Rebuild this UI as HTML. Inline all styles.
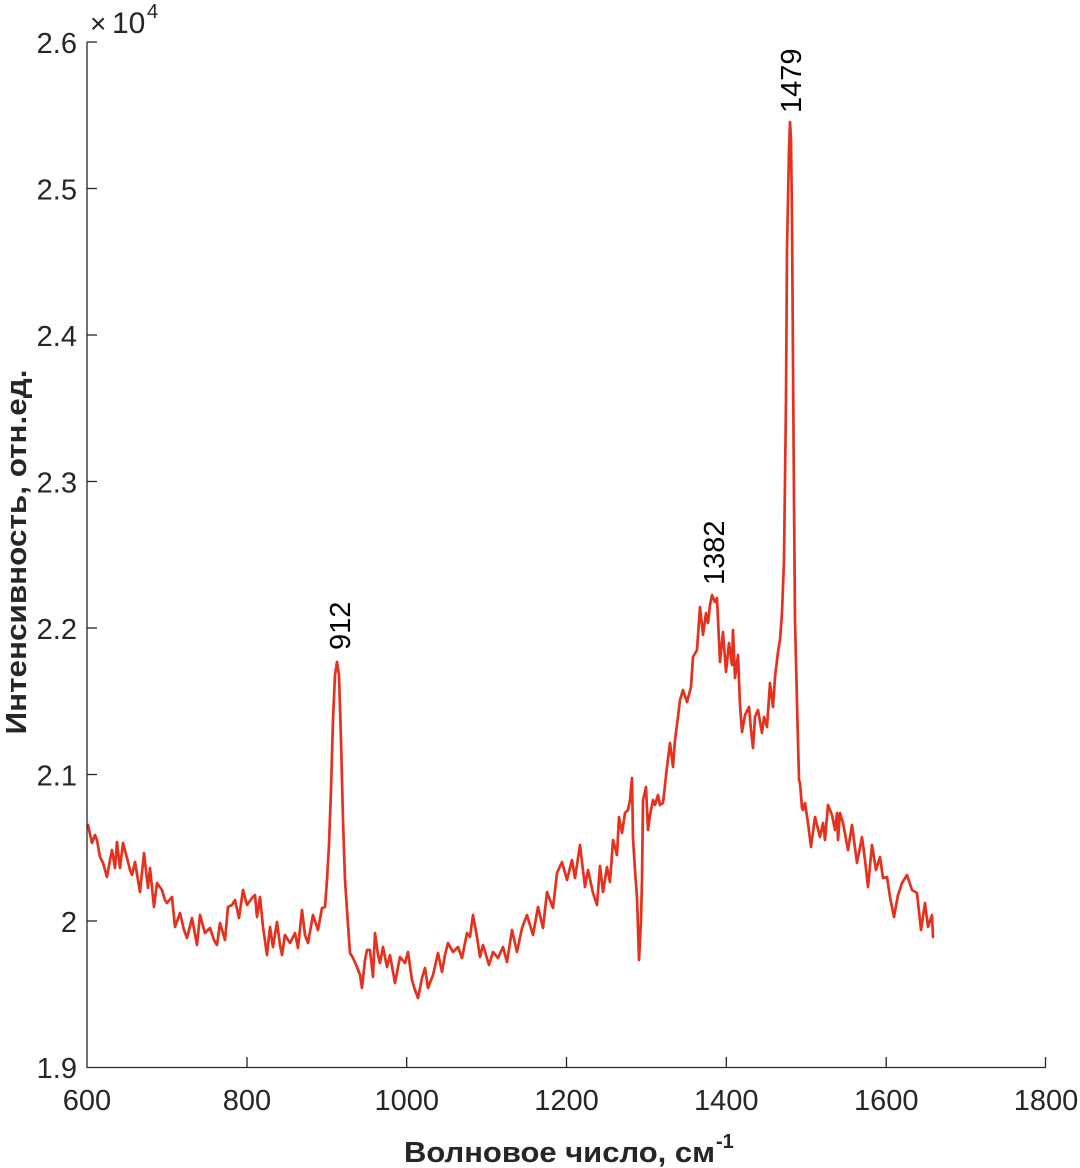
<!DOCTYPE html>
<html>
<head>
<meta charset="utf-8">
<style>
html,body{margin:0;padding:0;background:#fff;}
svg{display:block;}
text{font-family:"Liberation Sans","DejaVu Sans",sans-serif;}
</style>
</head>
<body>
<svg width="1080" height="1168" viewBox="0 0 1080 1168" xmlns="http://www.w3.org/2000/svg">
<rect width="1080" height="1168" fill="#fff"/>

<!-- data -->
<polyline fill="none" stroke="#e4321f" stroke-width="2.7" stroke-linejoin="round" stroke-linecap="round" points="
88,825 92,843 95,835 97,840 100,857 103,863 107,877 110,860 112,850 115,868 117,842 120,868 123,843 127,858 130,870 132,875 135,862 138,880 140,892 144,853 148,888 150,868 154,907 157,883 162,890 165,900 167,903 172,897 175,927 180,913 184,930 187,938 192,918 197,945 200,915 205,933 210,928 214,940 217,945 220,923 225,940 228,907 232,905 235,900 239,918 243,890 247,905 252,898 255,895 257,917 260,897 263,927 267,955 270,927 273,947 277,922 280,945 282,955 285,935 290,943 295,933 298,948 302,910 305,935 308,943 313,915 318,930 322,908 325,907 327,880 329,845 331,790 333,720 335,675 337,662 339,675 341,740 343,820 345,880 347,910 350,953 353,958 357,967 360,975 362,988 365,960 367,950 370,950 373,977 375,933 378,955 380,963 383,947 387,967 390,955 395,983 400,957 405,963 408,952 412,980 415,990 418,998 422,978 425,968 428,988 433,975 438,953 442,972 445,955 448,943 453,952 458,947 462,958 467,933 470,937 473,915 477,937 480,957 483,945 486,955 489,965 493,952 498,958 503,947 507,962 512,930 517,952 522,928 527,915 530,925 533,935 538,907 543,928 547,892 550,900 553,908 557,873 562,862 567,880 572,860 575,878 580,845 585,887 588,870 593,893 597,905 600,866 603,892 607,867 610,882 613,840 617,855 619,817 622,833 625,813 628,810 630,800 632,778 633,838 635,870 637,897 639,960 641,920 642,880 643,800 646,787 648,830 650,815 653,800 655,805 658,795 660,805 663,803 665,785 667,767 670,743 673,767 675,740 678,717 680,700 683,690 687,702 691,687 693,657 697,650 700,607 703,635 706,613 708,623 710,605 712,595 715,602 717,598 720,662 723,632 726,672 729,643 732,665 733,630 735,678 738,655 740,705 742,732 745,715 749,707 751,730 753,748 755,717 758,710 762,733 764,717 767,727 770,683 773,707 775,677 778,652 780,640 782,613 784,560 786,400 787,250 789,150 790,122 791,140 792,220 793,360 794,500 795,620 797,703 799,780 800,783 802,808 803,810 805,803 808,823 811,847 815,817 820,837 823,823 825,840 828,805 832,815 835,830 837,813 838,840 840,813 843,823 848,850 852,825 857,863 862,837 865,860 868,887 872,845 876,870 880,857 883,878 887,877 890,897 894,917 898,895 902,883 907,875 912,890 917,893 921,930 925,903 928,927 932,915 933,937"/>

<!-- axes -->
<g stroke="#262626" stroke-width="1.3" fill="none">
  <line x1="87" y1="42" x2="87" y2="1067.5"/>
  <line x1="86.5" y1="1067.5" x2="1046" y2="1067.5"/>
  <line x1="87" y1="42" x2="97" y2="42"/>
  <line x1="87" y1="188.5" x2="97" y2="188.5"/>
  <line x1="87" y1="335" x2="97" y2="335"/>
  <line x1="87" y1="481.5" x2="97" y2="481.5"/>
  <line x1="87" y1="628" x2="97" y2="628"/>
  <line x1="87" y1="774.5" x2="97" y2="774.5"/>
  <line x1="87" y1="921" x2="97" y2="921"/>
  <line x1="247" y1="1067" x2="247" y2="1057"/>
  <line x1="406.7" y1="1067" x2="406.7" y2="1057"/>
  <line x1="566.5" y1="1067" x2="566.5" y2="1057"/>
  <line x1="726.3" y1="1067" x2="726.3" y2="1057"/>
  <line x1="886.2" y1="1067" x2="886.2" y2="1057"/>
  <line x1="1045.5" y1="1067" x2="1045.5" y2="1057"/>
</g>

<!-- y tick labels -->
<g font-size="29" fill="#262626" text-anchor="end">
  <text x="77" y="53">2.6</text>
  <text x="77" y="199.5">2.5</text>
  <text x="77" y="346">2.4</text>
  <text x="77" y="492.5">2.3</text>
  <text x="77" y="639">2.2</text>
  <text x="77" y="785.5">2.1</text>
  <text x="77" y="932">2</text>
  <text x="77" y="1078">1.9</text>
</g>

<!-- x tick labels -->
<g font-size="29" fill="#262626" text-anchor="middle">
  <text x="87" y="1110">600</text>
  <text x="247" y="1110">800</text>
  <text x="406.7" y="1110">1000</text>
  <text x="566.5" y="1110">1200</text>
  <text x="726.3" y="1110">1400</text>
  <text x="886.2" y="1110">1600</text>
  <text x="1046" y="1110">1800</text>
</g>

<!-- exponent -->
<g fill="#262626">
  <text x="90" y="33" font-size="28">×</text>
  <text x="112" y="33" font-size="30">10</text>
  <text x="147" y="18" font-size="20">4</text>
</g>

<!-- peak labels -->
<g font-size="29" fill="#000">
  <text transform="translate(350,650) rotate(-90)">912</text>
  <text transform="translate(724,585) rotate(-90)">1382</text>
  <text transform="translate(801,113) rotate(-90)">1479</text>
</g>

<!-- axis labels -->
<text x="404" y="1162" font-size="29" font-weight="bold" fill="#262626" textLength="311" lengthAdjust="spacingAndGlyphs">Волновое число, см</text>
<text x="716" y="1148" font-size="20" font-weight="bold" fill="#262626">-1</text>
<text transform="translate(26,552) rotate(-90)" text-anchor="middle" font-size="29" font-weight="bold" fill="#262626" textLength="365" lengthAdjust="spacingAndGlyphs">Интенсивность, отн.ед.</text>
</svg>
</body>
</html>
